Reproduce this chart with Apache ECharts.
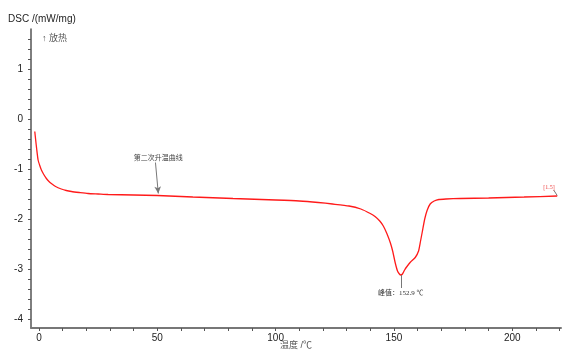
<!DOCTYPE html>
<html><head><meta charset="utf-8">
<script src="https://cdn.jsdelivr.net/npm/echarts@6/dist/echarts.min.js"></script>
<style>html,body{margin:0;padding:0;background:#fff}#c{width:571px;height:353px}</style>
</head><body><div id="c"></div>
<script>
const temps = [-1.8,-1.4,-1.0,-0.4,0.3,1.0,2.0,3.1,4.2,5.2,7.0,9.4,11.5,13.7,17,20.7,25,29.2,40,50,65,82,100,110,118,124,131,136,140,142,144,145.5,147,148.5,149.5,150.5,151.5,152.3,152.9,153.6,154.5,155.5,157,159,160.4,161.2,162,163,164,165.3,167,169,172,178,190,205,219];
const dsc = [-0.25,-0.43,-0.60,-0.82,-0.93,-1.02,-1.11,-1.19,-1.25,-1.29,-1.35,-1.40,-1.43,-1.45,-1.47,-1.49,-1.50,-1.51,-1.52,-1.53,-1.56,-1.59,-1.62,-1.64,-1.67,-1.70,-1.74,-1.80,-1.89,-1.95,-2.04,-2.14,-2.29,-2.48,-2.65,-2.87,-3.04,-3.10,-3.12,-3.10,-3.02,-2.95,-2.86,-2.77,-2.64,-2.45,-2.25,-2.00,-1.83,-1.70,-1.64,-1.61,-1.60,-1.59,-1.58,-1.56,-1.54];
const xLabelValues = [0,50,100,150,200];
const xTickValues = [0,10,20,30,40,50,60,70,80,90,100,110,120,130,140,150,160,170,180,190,200,210,220];
const yLabelValues = [-4,-3,-2,-1,0,1];
const yTickValues = [];
for (let i = -21; i <= 8; i++) yTickValues.push(+(i*0.2).toFixed(1));
const peakT = 152.9, peakV = -3.12;
const noteText = '第二次升温曲线';
const peakText = '峰值：152.9 ℃';
const endText = '[1.5]';

const chart = echarts.init(document.getElementById('c'), null, {renderer:'canvas'});
const data = temps.map((t,i)=>[t,dsc[i]]);
const cjk = '"Liberation Sans","Noto Sans CJK SC",sans-serif';
chart.setOption({
  animation:false,
  title:[
    {text:'DSC /(mW/mg)', left:3, top:9, textStyle:{fontSize:10, fontWeight:'normal', color:'#222', fontFamily:cjk}},
    {text:'↑ 放热', left:37, top:29, textStyle:{fontSize:9, fontWeight:'normal', color:'#555', fontFamily:cjk}}
  ],
  grid:{left:31, right:10, top:29, bottom:25, outerBoundsMode:'none', containLabel:false},
  xAxis:{
    type:'value', min:-3.4, max:220.6,
    name:'温度 /℃', nameLocation:'middle', nameGap:13, nameMoveOverlap:false,
    nameTextStyle:{fontSize:9, color:'#555', fontFamily:cjk, verticalAlign:'top'},
    axisLine:{show:true, onZero:false, lineStyle:{color:'#777', width:2}},
    axisTick:{show:true, customValues:xTickValues, length:3, lineStyle:{color:'#555'}},
    axisLabel:{customValues:xLabelValues, fontSize:10, color:'#222', margin:5, fontFamily:'"Liberation Sans",sans-serif'},
    splitLine:{show:false}
  },
  yAxis:{
    type:'value', min:-4.18, max:1.8,
    axisLine:{show:true, onZero:false, lineStyle:{color:'#555', width:1.5}},
    axisTick:{show:true, customValues:yTickValues, length:3, lineStyle:{color:'#555'}},
    axisLabel:{customValues:yLabelValues, fontSize:10, color:'#222', margin:8, fontFamily:'"Liberation Sans",sans-serif'},
    splitLine:{show:false}
  },
  series:[{
    type:'line', data:data, smooth:0.2, showSymbol:false, symbol:'none',
    lineStyle:{color:'#ff1a1a', width:1.3},
    markLine:{
      silent:true, animation:false,
      label:{show:false},
      data:[
        [{coord:[49.2,-0.87], symbol:'none'},{coord:[50.4,-1.49], symbol:'arrow', symbolSize:[5,7]}],
        [{coord:[peakT,peakV], symbol:'none'},{coord:[peakT,-3.38], symbol:'none'}],
        [{coord:[217.5,-1.42], symbol:'none'},{coord:[219,-1.53], symbol:'none'}]
      ],
      lineStyle:{color:'#777', width:1, type:'solid'}
    },
    markPoint:{
      silent:true, animation:false, symbol:'circle', symbolSize:0,
      data:[
        {coord:[50.4,-0.77], label:{show:true, formatter:noteText, fontSize:7, color:'#444', fontFamily:'"Noto Sans CJK SC",sans-serif', position:'inside'}},
        {coord:[peakT,-3.48], label:{show:true, formatter:peakText, fontSize:7, color:'#333', fontFamily:'"Liberation Serif","Noto Sans CJK SC",serif', position:'inside'}},
        {coord:[215.5,-1.36], label:{show:true, formatter:endText, fontSize:6, color:'#e44', fontFamily:'"Liberation Serif",serif', position:'inside'}}
      ]
    }
  }]
});
</script></body></html>
